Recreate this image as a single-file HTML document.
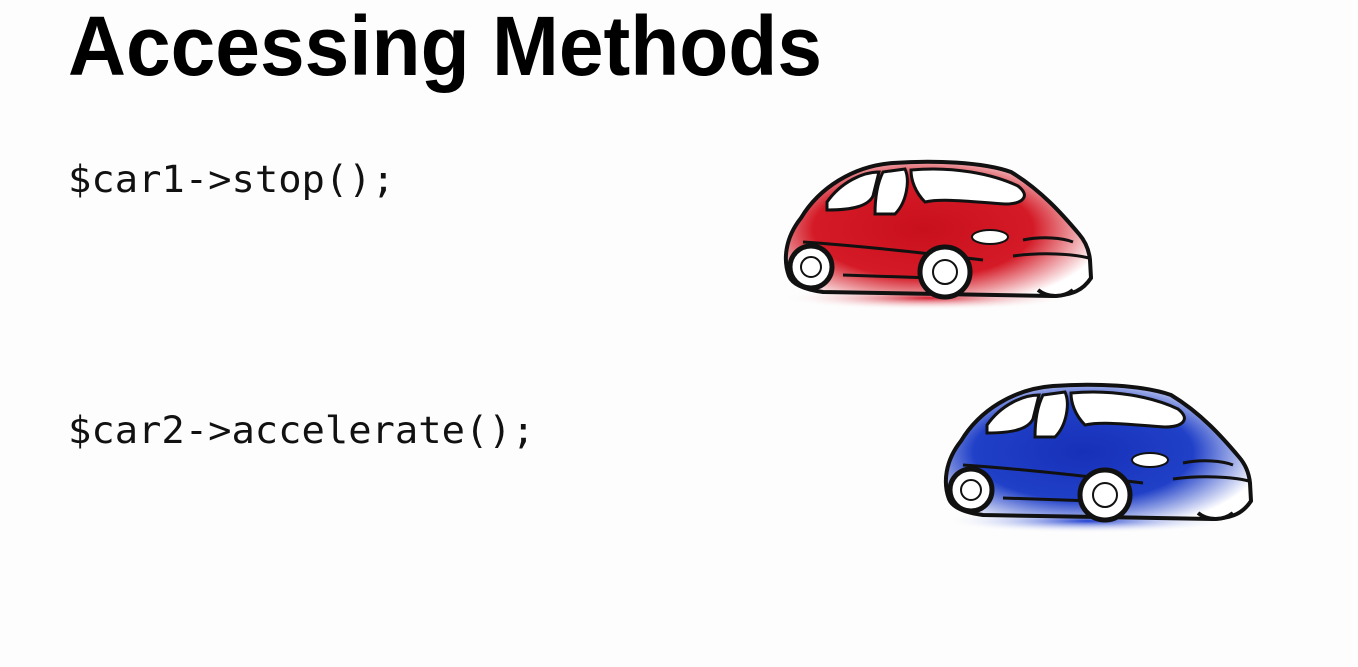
<!DOCTYPE html>
<html><head><style>
html,body{margin:0;padding:0;background:#fdfdfd;}
</style></head><body>
<svg width="1358" height="662" viewBox="0 0 1358 662" xmlns="http://www.w3.org/2000/svg">
<defs>
<radialGradient id="rg" cx="0.45" cy="0.5" r="0.6">
<stop offset="0" stop-color="#c8101c"/><stop offset="0.6" stop-color="#d41a26"/><stop offset="1" stop-color="#fff"/></radialGradient>
<radialGradient id="bg" cx="0.45" cy="0.5" r="0.6">
<stop offset="0" stop-color="#1830b8"/><stop offset="0.6" stop-color="#2040c8"/><stop offset="1" stop-color="#fff"/></radialGradient>
<radialGradient id="rs" cx="0.5" cy="0.5" r="0.5"><stop offset="0" stop-color="#d42030"/><stop offset="1" stop-color="#fff" stop-opacity="0"/></radialGradient>
<radialGradient id="bs" cx="0.5" cy="0.5" r="0.5"><stop offset="0" stop-color="#2040d0"/><stop offset="1" stop-color="#fff" stop-opacity="0"/></radialGradient>
<g id="car">
<path d="M6,116 C0,100 2,78 18,58 C36,28 70,6 110,3 C150,0 200,2 228,12 C258,30 280,55 296,74 C303,82 306,90 307,100 L308,118 C300,130 290,135 270,136 L40,132 C25,130 10,126 6,116 Z" stroke="#111" stroke-width="4"/>
<path d="M44,42 C58,22 80,12 96,12 L90,36 C85,46 70,50 44,50 Z" fill="#fff" stroke="#111" stroke-width="3"/>
<path d="M100,12 L122,9 C127,20 124,42 112,54 L92,54 C92,36 95,22 100,12Z" fill="#fff" stroke="#111" stroke-width="3"/>
<path d="M128,10 C170,6 210,14 235,26 C248,36 240,44 222,44 C190,42 160,38 142,42 C132,32 128,20 128,10Z" fill="#fff" stroke="#111" stroke-width="3"/>
<ellipse cx="207" cy="77" rx="18" ry="7" fill="#fff" stroke="#111" stroke-width="2"/>
<path d="M240,80 C260,76 280,78 290,82 M230,96 C260,92 290,94 306,98 M20,82 C80,86 150,94 200,100 M60,115 L150,118" stroke="#111" stroke-width="3" fill="none"/>
<circle cx="28" cy="107" r="21" fill="#fff" stroke="#111" stroke-width="5"/>
<circle cx="28" cy="107" r="10" fill="#fff" stroke="#111" stroke-width="2"/>
<circle cx="162" cy="112" r="25" fill="#fff" stroke="#111" stroke-width="5"/>
<circle cx="162" cy="112" r="12" fill="#fff" stroke="#111" stroke-width="2"/>
<path d="M255,130 C265,138 280,138 290,130" fill="#fff" stroke="#111" stroke-width="4"/>
</g>
</defs>
<text x="68" y="75" font-family="Liberation Sans, sans-serif" font-weight="bold" font-size="84" textLength="754" lengthAdjust="spacingAndGlyphs" fill="#000">Accessing Methods</text>
<text x="68" y="192" font-family="DejaVu Sans Mono, Liberation Mono, monospace" font-size="37" textLength="327" lengthAdjust="spacingAndGlyphs" fill="#111">$car1-&gt;stop();</text>
<text x="68" y="443" font-family="DejaVu Sans Mono, Liberation Mono, monospace" font-size="37" textLength="467" lengthAdjust="spacingAndGlyphs" fill="#111">$car2-&gt;accelerate();</text>
<g transform="translate(783,160)">
<ellipse cx="145" cy="138" rx="145" ry="12" fill="url(#rs)"/>
<use href="#car" fill="url(#rg)"/>
</g>
<g transform="translate(943,383)">
<ellipse cx="145" cy="138" rx="145" ry="12" fill="url(#bs)"/>
<use href="#car" fill="url(#bg)"/>
</g>
</svg>
</body></html>
